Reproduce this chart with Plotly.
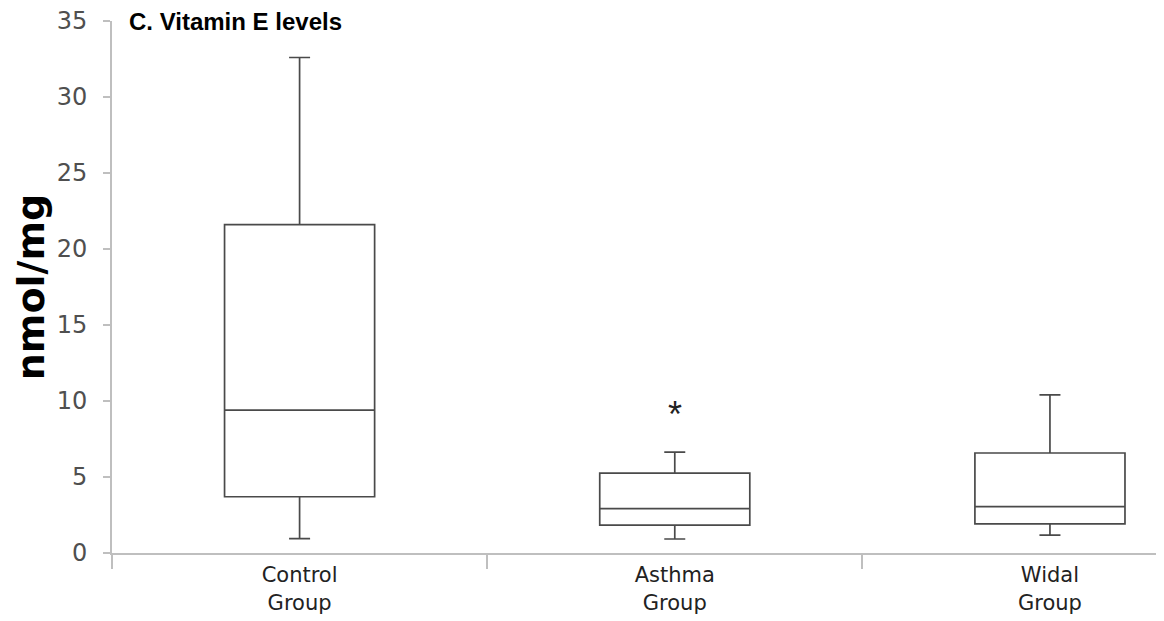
import plotly.graph_objects as go

groups = ["Control Group", "Asthma Group", "Widal Group"]
tick_labels = ["Control<br>Group", "Asthma<br>Group", "Widal<br>Group"]
lower = [0.95, 0.92, 1.18]
q1 = [3.7, 1.84, 1.91]
median = [9.4, 2.92, 3.05]
q3 = [21.6, 5.26, 6.58]
upper = [32.6, 6.64, 10.4]
star_group = "Asthma Group"
star_y = 9.4

fig = go.Figure()
for i, g in enumerate(groups):
    fig.add_trace(go.Box(
        x=[g], q1=[q1[i]], median=[median[i]], q3=[q3[i]],
        lowerfence=[lower[i]], upperfence=[upper[i]],
        width=0.4, whiskerwidth=0.14,
        fillcolor="white",
        line=dict(color="#4a4a4a", width=1.7),
        boxpoints=False, showlegend=False, hoverinfo="skip",
    ))

fig.add_annotation(x=star_group, y=star_y, text="*", showarrow=False,
                   font=dict(size=36, color="#222", family="Liberation Sans"),
                   yshift=-4)
fig.add_annotation(xref="paper", yref="paper", x=0.014, y=1.0, xanchor="left",
                   yanchor="middle", text="<b>C. Vitamin E levels</b>",
                   showarrow=False,
                   font=dict(size=24, color="black", family="Liberation Sans"))

fig.update_layout(
    width=1156, height=613,
    margin=dict(l=104, r=0, t=13, b=68),
    paper_bgcolor="white", plot_bgcolor="white",
    xaxis=dict(
        type="category", categoryorder="array", categoryarray=groups,
        tickvals=groups, ticktext=tick_labels,
        range=[-0.5, 2.304], automargin=False,
        tickson="boundaries", ticks="outside", ticklen=14, tickwidth=1.5,
        tickcolor="#bfbfbf",
        showline=True, linecolor="#bfbfbf", linewidth=2,
        showgrid=False, zeroline=False,
        tickfont=dict(size=21, color="#222", family="DejaVu Sans"),
        ticklabelstandoff=2,
    ),
    yaxis=dict(
        range=[0, 35], dtick=5, tick0=0, automargin=False,
        ticks="outside", ticklen=7, tickwidth=1.5, tickcolor="#bfbfbf",
        showline=True, linecolor="#bfbfbf", linewidth=2,
        showgrid=False, zeroline=False,
        tickfont=dict(size=24, color="#4f4f4f", family="DejaVu Sans"),
        ticklabelstandoff=11, ticklabeloverflow="allow",
        title=dict(text="<b>nmol/mg</b>", standoff=0,
                   font=dict(size=38, color="black", family="DejaVu Sans")),
    ),
)

fig.write_html("out.html")
